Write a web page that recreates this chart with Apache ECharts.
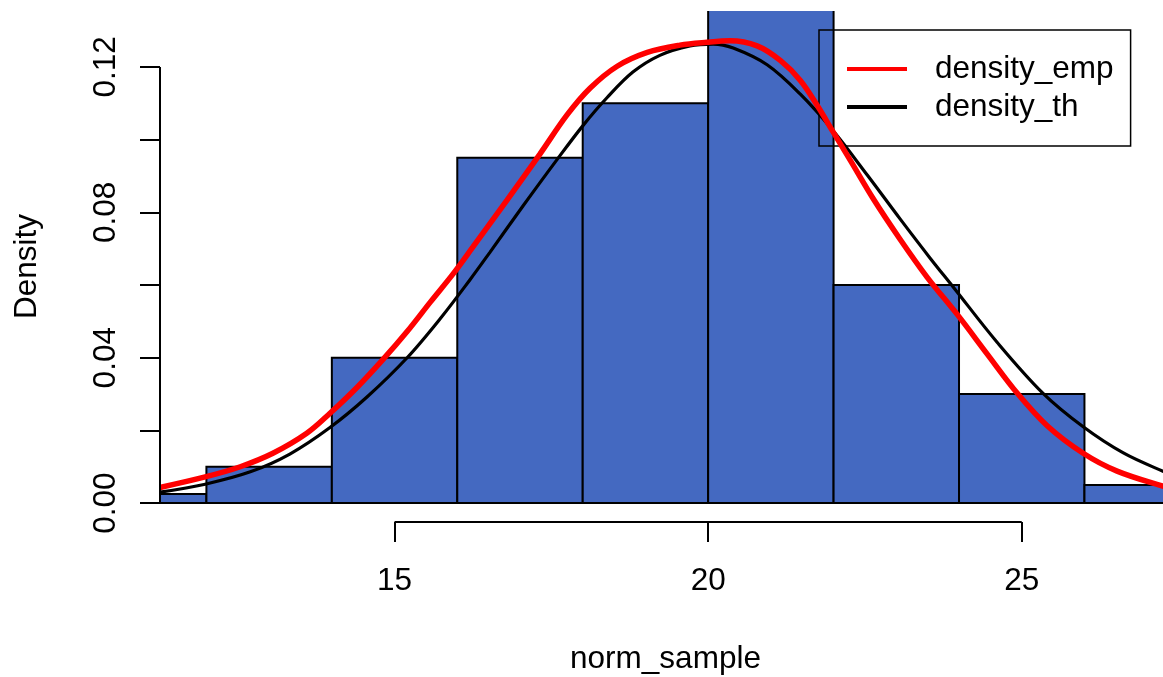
<!DOCTYPE html>
<html><head><meta charset="utf-8">
<script src="https://cdn.jsdelivr.net/npm/echarts@6/dist/echarts.min.js"></script>
<style>html,body{margin:0;padding:0;background:#fff}#c{width:1163px;height:677px}</style>
</head><body><div id="c"></div>
<script>
const binEdges = [10,12,14,16,18,20,22,24,26,28];
const binDensity = [0.0025,0.01,0.04,0.095,0.11,0.1475,0.06,0.03,0.005];
const densityEmp = [[11.26,0.0043],[11.98,0.0072],[12.54,0.0100],[13.06,0.0137],[13.60,0.0192],[13.97,0.0247],[14.40,0.0318],[14.82,0.0396],[15.20,0.0472],[15.57,0.0553],[15.93,0.0630],[16.25,0.0705],[16.79,0.0833],[17.32,0.0961],[17.75,0.1068],[18.12,0.1142],[18.55,0.1202],[19.03,0.1240],[19.55,0.1260],[19.98,0.1268],[20.35,0.1272],[20.78,0.1258],[21.15,0.1218],[21.47,0.1163],[21.74,0.1094],[21.99,0.1022],[22.26,0.0945],[22.63,0.0838],[23.06,0.0726],[23.49,0.0622],[23.99,0.0515],[24.45,0.0410],[24.93,0.0302],[25.41,0.0212],[25.98,0.0137],[26.52,0.0088],[27.26,0.0046],[27.40,0.0041]];
const densityTh = [[11.26,0.0030],[11.98,0.0052],[12.70,0.0086],[13.33,0.0135],[13.97,0.0208],[14.56,0.0292],[15.20,0.0400],[15.73,0.0508],[16.20,0.0614],[16.52,0.0690],[17.05,0.0818],[17.59,0.0945],[18.01,0.1040],[18.39,0.1116],[18.80,0.1186],[19.23,0.1232],[19.71,0.1258],[20.08,0.1263],[20.40,0.1252],[20.94,0.1206],[21.47,0.1125],[21.99,0.1025],[22.54,0.0902],[23.06,0.0782],[23.54,0.0674],[23.91,0.0594],[24.61,0.0442],[25.34,0.0302],[25.98,0.0210],[26.62,0.0138],[27.26,0.0087],[27.40,0.0079]];
const xTicks = [15,20,25];
const yTicks = [0,0.02,0.04,0.06,0.08,0.10,0.12];
const yLabelValues = [0,0.04,0.08,0.12];
const xRange = [11.26, 27.38];
const yRange = [-0.0052, 0.1354];

const FONT = '"Liberation Sans", Arial, Helvetica, sans-serif';
const txt = {fontSize:31.5, color:'#000', fontFamily:FONT};
const chart = echarts.init(document.getElementById('c'), null, {renderer:'canvas'});
const bins = binDensity.map((d,i)=>[binEdges[i], binEdges[i+1], d]);
const option = {
  animation:false,
  backgroundColor:'#fff',
  grid:{left:160, top:11, width:1011, bottom:155, containLabel:false, outerBoundsMode:'none'},
  xAxis:{type:'value', min:xRange[0], max:xRange[1],
    axisLine:{show:false, onZero:false}, splitLine:{show:false},
    axisTick:{show:true, customValues:xTicks, length:20, lineStyle:{color:'#000', width:2}},
    axisLabel:Object.assign({customValues:xTicks, margin:43, formatter:v=>String(v)}, txt),
    name:'norm_sample', nameLocation:'middle', nameGap:121, nameTextStyle:txt},
  yAxis:{type:'value', min:yRange[0], max:yRange[1],
    axisLine:{show:false, onZero:false}, splitLine:{show:false},
    axisTick:{show:true, customValues:yTicks, length:20, lineStyle:{color:'#000', width:2}},
    axisLabel:Object.assign({customValues:yLabelValues, rotate:90, margin:38, formatter:v=>v.toFixed(2)}, txt),
    name:'Density', nameLocation:'middle', nameRotate:90, nameGap:117, nameTextStyle:txt},
  legend:{data:['density_emp','density_th'], orient:'vertical', left:819, top:30,
    padding:[20,17,20,28], itemGap:0, itemWidth:60, itemHeight:4, icon:'rect',
    borderColor:'#000', borderWidth:1.5, selectedMode:false,
    textStyle:Object.assign({lineHeight:38, padding:[0,0,0,23]}, txt)},
  series:[
    {type:'custom', name:'hist', data:bins, clip:true, silent:true, z:1,
     encode:{x:[0,1], y:2},
     renderItem:(params, api)=>{
       const p0 = api.coord([api.value(0), api.value(2)]);
       const p1 = api.coord([api.value(1), 0]);
       return {type:'rect', shape:{x:p0[0], y:p0[1], width:p1[0]-p0[0], height:p1[1]-p0[1]},
         style:{fill:'#4469C1', stroke:'#000', lineWidth:2}};
     }},
    {type:'line', name:'density_th', data:densityTh, smooth:0.35, symbol:'none', z:3,
     color:'#000', lineStyle:{color:'#000', width:3.2}},
    {type:'line', name:'density_emp', data:densityEmp, smooth:0.35, symbol:'none', z:4,
     color:'#ff0000', lineStyle:{color:'#ff0000', width:5.5}},
    {type:'line', name:'xaxisline', data:[[xTicks[0], yRange[0]],[xTicks[xTicks.length-1], yRange[0]]],
     clip:false, symbol:'none', silent:true, z:5, lineStyle:{color:'#000', width:2}},
    {type:'line', name:'yaxisline', data:[[xRange[0], yTicks[0]],[xRange[0], yTicks[yTicks.length-1]]],
     clip:false, symbol:'none', silent:true, z:5, lineStyle:{color:'#000', width:2}}
  ]
};
chart.setOption(option);
</script></body></html>
